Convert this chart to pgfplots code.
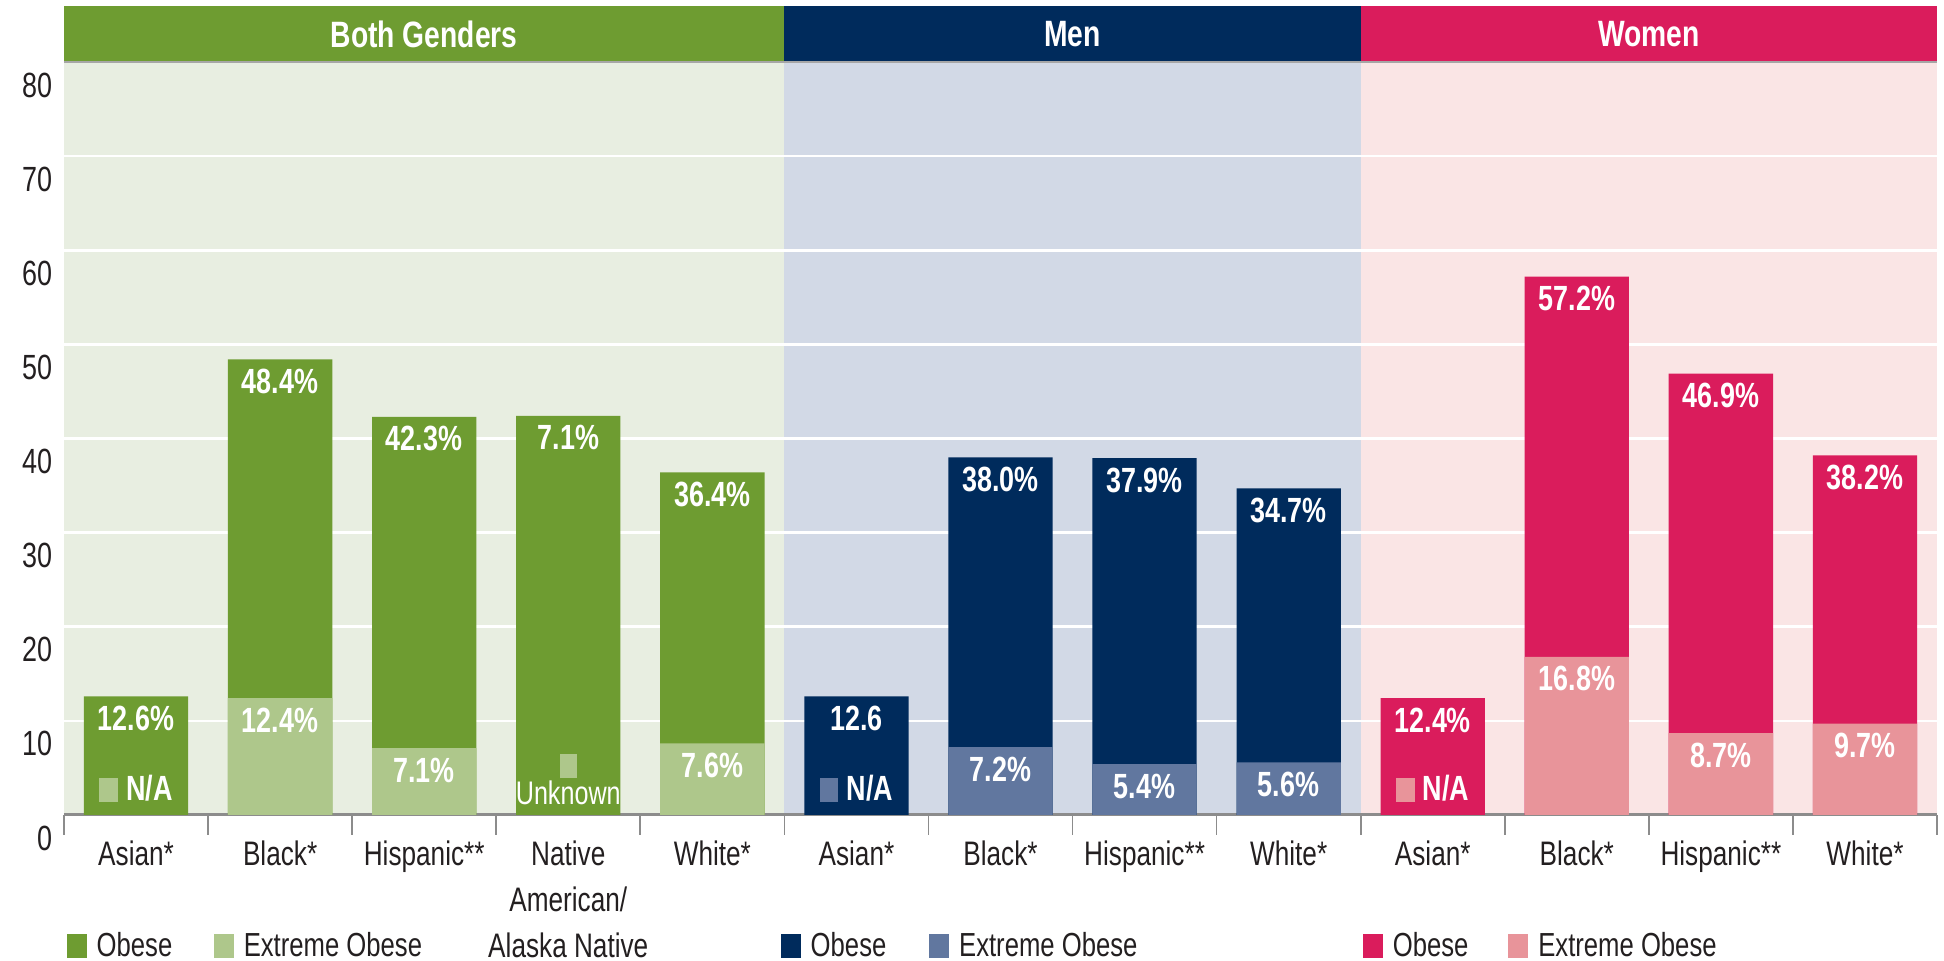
\documentclass[border=0pt]{standalone}
\usepackage{pgfplots}
\pgfplotsset{compat=1.18}
\usepackage{fontspec}
\setmainfont{Liberation Sans}[FakeStretch=0.77]
\definecolor{gO}{HTML}{6E9C31}
\definecolor{gE}{HTML}{AEC78B}
\definecolor{gB}{HTML}{E8EEE1}
\definecolor{nO}{HTML}{002B5C}
\definecolor{nE}{HTML}{61779F}
\definecolor{nB}{HTML}{D2D9E6}
\definecolor{pO}{HTML}{DA1C5C}
\definecolor{pE}{HTML}{E8949A}
\definecolor{pB}{HTML}{FAE5E5}
\definecolor{txt}{HTML}{231F20}
\definecolor{axgray}{HTML}{8C8C8C}
\begin{document}
\begin{tikzpicture}
\begin{axis}[
  name=ax,
  set layers=standard,
  width=561.9pt, height=225.9pt, scale only axis,
  xmin=-0.5, xmax=12.5, ymin=0, ymax=80,
  clip=false,
  axis x line*=bottom, axis y line*=left,
  x axis line style={draw=axgray, line width=0.9pt},
  y axis line style={draw=none},
  xtick={0,...,12},
  xticklabels={Asian*, Black*, Hispanic**, {Native\\American/\\Alaska Native}, White*, Asian*, Black*, Hispanic**, White*, Asian*, Black*, Hispanic**, White*},
  xticklabel style={align=center, font=\fontsize{10.2}{13.8}\selectfont, text=txt, yshift=0pt},
  major x tick style={draw=none},
  minor xtick={-0.5,0.5,...,12.5},
  minor tick length=6pt,
  xtick align=inside,
  minor x tick style={draw=axgray, line width=0.5pt},
  ytick={0,10,...,80},
  ymajorgrids,
  grid style={white, line width=0.8pt},
  major y tick style={draw=none},
  yticklabel style={yshift=-6.9pt, font=\fontsize{10.5}{12}\selectfont, text=txt},
  /pgf/number format/assume math mode=true,
  ybar, bar width=0.724,
  nodes near coords, point meta=explicit symbolic,
  every node near coord/.append style={anchor=center, yshift=-6.6pt, text=white, font=\bfseries\fontsize{10.5}{12}\selectfont},
]
\begin{pgfonlayer}{axis background}
\fill[gB] (axis cs:-0.5,0) rectangle (axis cs:4.5,80);
\fill[nB] (axis cs:4.5,0) rectangle (axis cs:8.5,80);
\fill[pB] (axis cs:8.5,0) rectangle (axis cs:12.5,80);
\end{pgfonlayer}

\addplot[fill=gO, draw=none, bar shift=0pt] coordinates {(0,12.6)[12.6\%] (1,48.4)[48.4\%] (2,42.3)[42.3\%] (3,42.4)[7.1\%] (4,36.4)[36.4\%]};
\addplot[fill=gE, draw=none, bar shift=0pt] coordinates {(1,12.4)[12.4\%] (2,7.1)[7.1\%] (4,7.6)[7.6\%]};
\addplot[fill=nO, draw=none, bar shift=0pt] coordinates {(5,12.6)[12.6] (6,38.0)[38.0\%] (7,37.9)[37.9\%] (8,34.7)[34.7\%]};
\addplot[fill=nE, draw=none, bar shift=0pt] coordinates {(6,7.2)[7.2\%] (7,5.4)[5.4\%] (8,5.6)[5.6\%]};
\addplot[fill=pO, draw=none, bar shift=0pt] coordinates {(9,12.4)[12.4\%] (10,57.2)[57.2\%] (11,46.9)[46.9\%] (12,38.2)[38.2\%]};
\addplot[fill=pE, draw=none, bar shift=0pt] coordinates {(10,16.8)[16.8\%] (11,8.7)[8.7\%] (12,9.7)[9.7\%]};

% N/A and Unknown notes
\node[text=white, font=\bfseries\fontsize{10.5}{12}\selectfont, inner sep=0pt] at (axis cs:0,2.8) {\textcolor{gE}{\rule[-0.3pt]{5.5pt}{7.2pt}}\hspace{2.5pt}N/A};
\node[text=white, font=\bfseries\fontsize{10.5}{12}\selectfont, inner sep=0pt] at (axis cs:5,2.8) {\textcolor{nE}{\rule[-0.3pt]{5.5pt}{7.2pt}}\hspace{2.5pt}N/A};
\node[text=white, font=\bfseries\fontsize{10.5}{12}\selectfont, inner sep=0pt] at (axis cs:9,2.8) {\textcolor{pE}{\rule[-0.3pt]{5.5pt}{7.2pt}}\hspace{2.5pt}N/A};
\node[inner sep=0pt] at (axis cs:3,5.2) {\textcolor{gE}{\rule{5pt}{7.4pt}}};
\node[text=white, font=\fontsize{9.8}{12}\selectfont, inner sep=0pt] at (axis cs:3,2.3) {Unknown};

% headers
\fill[gO] (axis cs:-0.5,80) rectangle (axis cs:4.5,85.9);
\fill[nO] (axis cs:4.5,80) rectangle (axis cs:8.5,85.9);
\fill[pO] (axis cs:8.5,80) rectangle (axis cs:12.5,85.9);
\draw[gray!70, line width=0.7pt] (axis cs:-0.5,80) -- (axis cs:12.5,80);
\node[text=white, font=\bfseries\fontsize{11}{13}\selectfont] at (axis cs:2,82.95) {Both Genders};
\node[text=white, font=\bfseries\fontsize{11}{13}\selectfont] at (axis cs:6.5,82.95) {Men};
\node[text=white, font=\bfseries\fontsize{11}{13}\selectfont] at (axis cs:10.5,82.95) {Women};

% legends
\begin{scope}[every node/.style={anchor=west, inner sep=0pt, text=txt, font=\fontsize{10}{12}\selectfont}]
\node at (axis cs:-0.486,-13.8) {\textcolor{gO}{\rule[-0.4pt]{6pt}{7.2pt}}\hspace{3pt}Obese};
\node at (axis cs:0.535,-13.8) {\textcolor{gE}{\rule[-0.4pt]{6pt}{7.2pt}}\hspace{3pt}Extreme Obese};
\node at (axis cs:4.47,-13.8) {\textcolor{nO}{\rule[-0.4pt]{6pt}{7.2pt}}\hspace{3pt}Obese};
\node at (axis cs:5.5,-13.8) {\textcolor{nE}{\rule[-0.4pt]{6pt}{7.2pt}}\hspace{3pt}Extreme Obese};
\node at (axis cs:8.51,-13.8) {\textcolor{pO}{\rule[-0.4pt]{6pt}{7.2pt}}\hspace{3pt}Obese};
\node at (axis cs:9.52,-13.8) {\textcolor{pE}{\rule[-0.4pt]{6pt}{7.2pt}}\hspace{3pt}Extreme Obese};
\end{scope}
\end{axis}
\pgfresetboundingbox
\path ([xshift=-19.2pt, yshift=-43.8pt]ax.south west) rectangle ([xshift=2.1pt, yshift=18.6pt]ax.north east);
\end{tikzpicture}
\end{document}
